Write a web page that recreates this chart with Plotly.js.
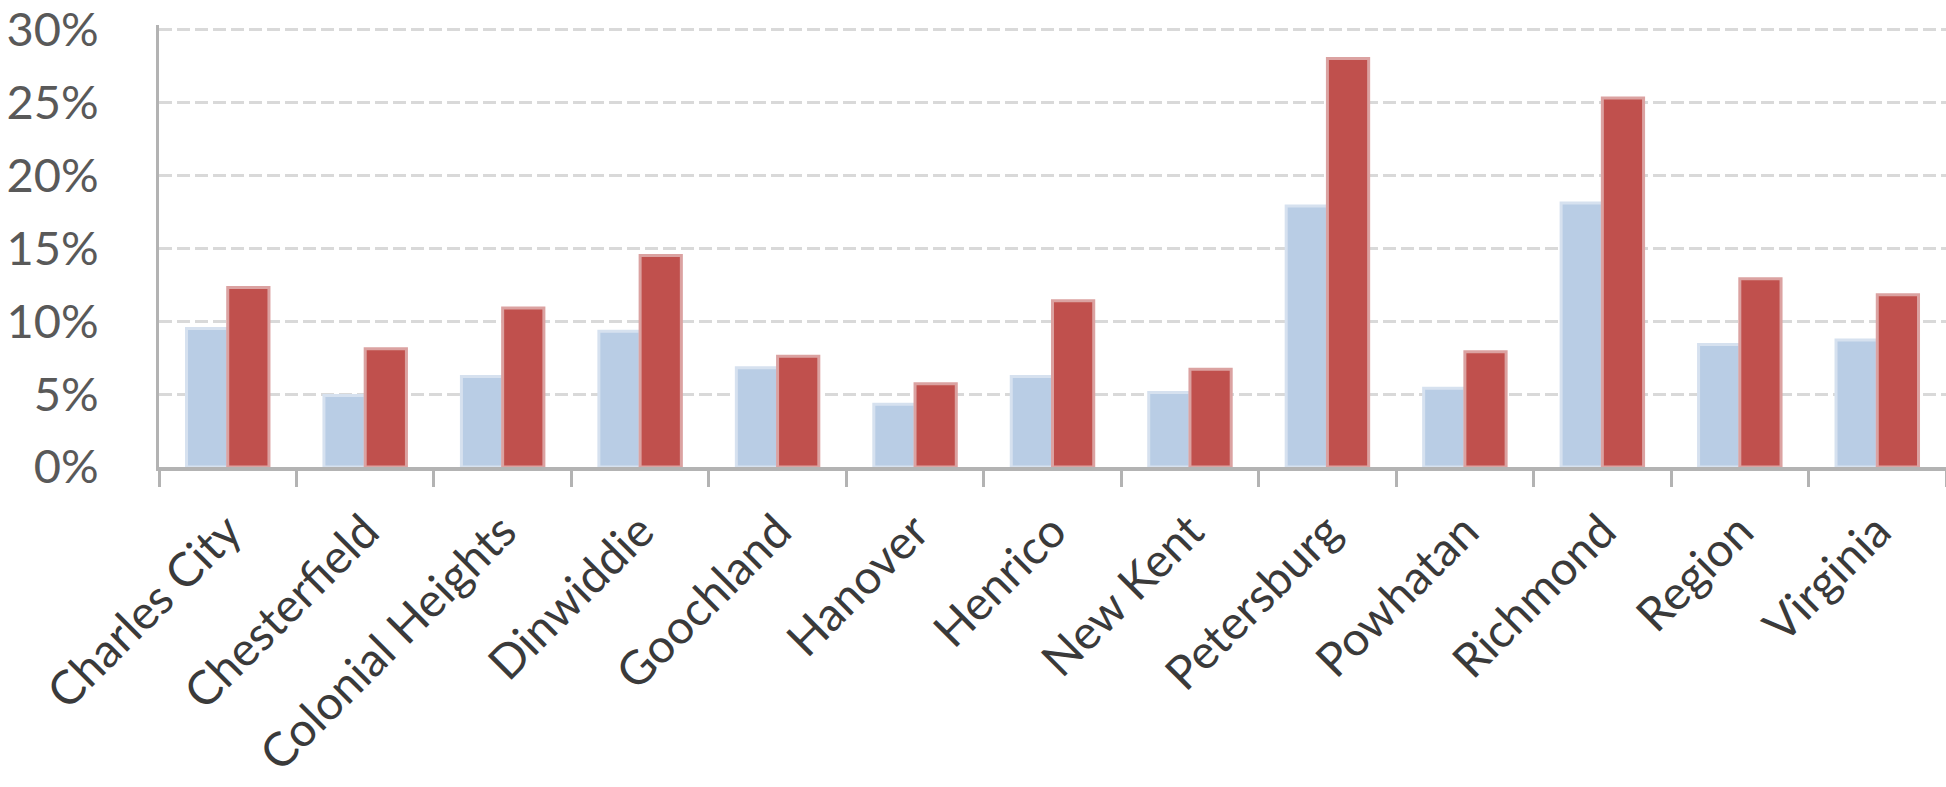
<!DOCTYPE html>
<html>
<head>
<meta charset="utf-8">
<script src="https://cdn.plot.ly/plotly-3.0.1.min.js"></script>
<style>html,body{margin:0;padding:0;background:#fff;}#chart{width:1946px;height:787px;}</style>
</head>
<body>
<div id="chart"></div>
<script>
const categories = ["Charles City", "Chesterfield", "Colonial Heights", "Dinwiddie", "Goochland", "Hanover", "Henrico", "New Kent", "Petersburg", "Powhatan", "Richmond", "Region", "Virginia"];
const seriesBlue = [9.5, 4.9, 6.2, 9.3, 6.8, 4.3, 6.2, 5.1, 17.9, 5.4, 18.1, 8.4, 8.7];
const seriesRed = [12.3, 8.1, 10.9, 14.5, 7.6, 5.7, 11.4, 6.7, 28.0, 7.9, 25.3, 12.9, 11.8];
const yTickValues = [0, 5, 10, 15, 20, 25, 30];
const yTickLabels = ["0%", "5%", "10%", "15%", "20%", "25%", "30%"];

const traces = [
  {
    type: "bar", x: categories, y: seriesBlue, name: "Series 1",
    marker: {color: "#B9CDE5", line: {color: "#D6E1EF", width: 3}},
    hoverinfo: "x+y"
  },
  {
    type: "bar", x: categories, y: seriesRed, name: "Series 2",
    marker: {color: "#C0504D", line: {color: "#DBA2A1", width: 3}},
    hoverinfo: "x+y"
  }
];

const layout = {
  width: 1946, height: 787,
  margin: {l: 159, r: 0, t: 25, b: 320},
  paper_bgcolor: "#ffffff", plot_bgcolor: "#ffffff",
  showlegend: false,
  barmode: "group", bargap: 0.4, bargroupgap: 0,
  font: {family: "Lato, 'Open Sans', sans-serif"},
  xaxis: {
    type: "category",
    tickangle: -45,
    tickson: "boundaries",
    ticks: "outside", ticklen: 16, tickwidth: 3, tickcolor: "#b3b3b3",
    showline: true, linecolor: "#b3b3b3", linewidth: 4,
    showgrid: false,
    ticklabelstandoff: 14,
    tickfont: {size: 47, color: "#3a3a3a", family: "Lato, sans-serif"},
    automargin: false
  },
  yaxis: {
    range: [0, 30.3],
    tickmode: "array",
    tickvals: yTickValues,
    ticktext: yTickLabels,
    ticklabeloverflow: "allow",
    showline: true, linecolor: "#b3b3b3", linewidth: 3,
    ticks: "",
    showgrid: true, gridcolor: "#d9d9d9", gridwidth: 3, griddash: "13px,5px",
    zeroline: false,
    ticklabelstandoff: 48,
    tickfont: {size: 47, color: "#595959", family: "Lato, sans-serif"},
    automargin: false
  }
};

Plotly.newPlot("chart", traces, layout, {displayModeBar: false, staticPlot: true});
</script>
</body>
</html>
